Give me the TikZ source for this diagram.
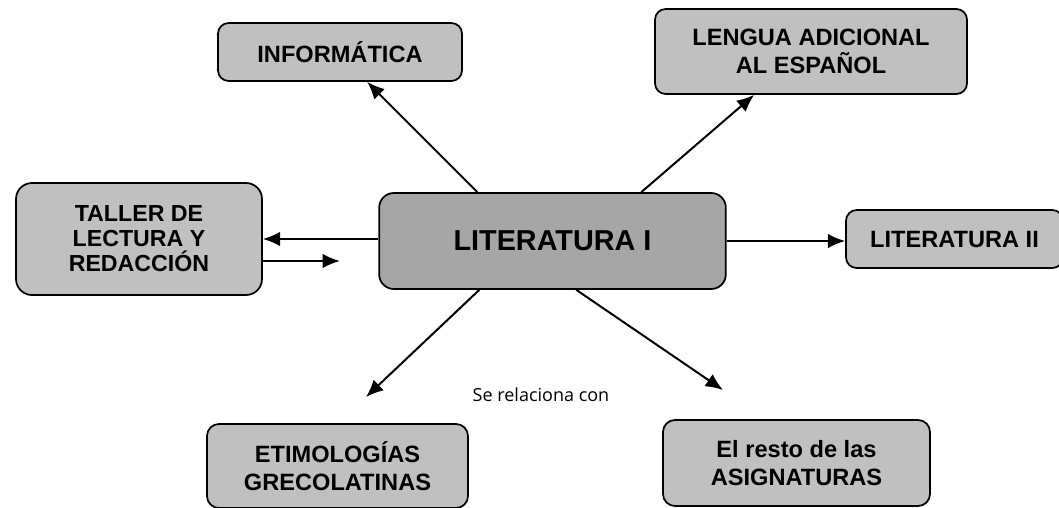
\documentclass[tikz,border=0pt]{standalone}
\usepackage{fontspec}
\setmainfont{Liberation Sans}
\newfontfamily\relfont{Open Sans}
\usetikzlibrary{positioning,shapes,arrows.meta,calc}
\definecolor{boxgray}{HTML}{C0C0C0}
\definecolor{centergray}{HTML}{A6A6A6}

\begin{document}
\begin{tikzpicture}[x=0.75pt,y=-0.75pt,line width=1.3pt,>={Latex[length=13pt,width=11pt]},
	subject/.style={draw, fill=boxgray, rounded corners=8pt, align=center, inner sep=2pt,
		font=\bfseries\fontsize{17.7}{21.5}\selectfont},
	main/.style={subject, fill=centergray, rounded corners=11pt,
		font=\bfseries\fontsize{21.6}{26}\selectfont},
	link/.style={->, line width=1.5pt}]

		\useasboundingbox (0,0) rectangle (1059,507);

		%the central subject
		\node[main, minimum width=260pt, minimum height=72pt] (lit1) at (552.5,241) {LITERATURA I};

		%the related subjects
		\node[subject, minimum width=183pt, minimum height=43.5pt] (info) at (340,52) {INFORMÁTICA};
		\node[subject, minimum width=234pt, minimum height=63.75pt] (lengua) at (811,51.5) {LENGUA ADICIONAL\\AL ESPAÑOL};
		\node[subject, rounded corners=12pt, minimum width=184.5pt, minimum height=84pt,
			font=\bfseries\fontsize{17.4}{18.8}\selectfont] (taller) at (139,239) {TALLER DE\\LECTURA Y\\REDACCIÓN};
		\node[subject, minimum width=162.75pt, minimum height=43.5pt] (lit2) at (954.5,239) {LITERATURA II};
		\node[subject, rounded corners=9pt, minimum width=195.75pt, minimum height=63pt] (etim) at (337.5,466) {ETIMOLOGÍAS\\GRECOLATINAS};
		\node[subject, rounded corners=9pt, minimum width=200.25pt, minimum height=64.5pt] (resto) at (796.5,463) {El resto de las\\ASIGNATURAS};

		%free ends of the arrows
		\coordinate (tallertip) at ($(taller.east)+(77,22)$);
		\coordinate (etimtip) at (366,397);
		\coordinate (restotip) at (723,390);

		%the arrows
		\draw[link] ($(lit1.north west)+(99,0)$) -- ($(info.south west)+(150,0)$);
		\draw[link] ($(lit1.north west)+(263,0)$) -- ($(lengua.south west)+(100,0)$);
		\draw[link] (lit1.west |- taller.east) -- (taller.east);
		\draw[link] ($(taller.east)+(0,22)$) -- (tallertip);
		\draw[link] (lit1.east) -- (lit1.east -| lit2.west);
		\draw[link] ($(lit1.south west)+(101,0)$) -- (etimtip);
		\draw[link] ($(lit1.south west)+(198,0)$) -- (restotip);

		%the label
		\node[font=\relfont\fontsize{13.5}{16}\selectfont] (rel) at (541,395) {Se relaciona con};

\end{tikzpicture}
\end{document}
